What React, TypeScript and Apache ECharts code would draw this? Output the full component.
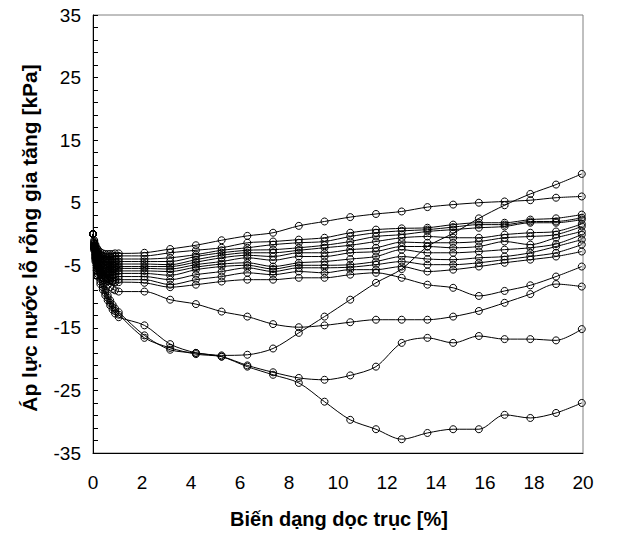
import React, { useEffect, useRef } from "react";
import * as echarts from "echarts";

// Axial strain [%] sampling positions shared by every test curve
const strain = [0, 0.05, 0.1, 0.15, 0.2, 0.3, 0.4, 0.5, 0.6, 0.7, 0.8, 0.9, 1.05, 2.1, 3.15, 4.2, 5.25, 6.3, 7.35, 8.4, 9.45, 10.5, 11.55, 12.6, 13.65, 14.7, 15.75, 16.8, 17.85, 18.9, 19.95];

const xTickLabels = [0, 2, 4, 6, 8, 10, 12, 14, 16, 18, 20];
const yTickLabels = [-35, -25, -15, -5, 5, 15, 25, 35];
const yMinorTicks = [-35, -33, -31, -29, -27, -25, -23, -21, -19, -17, -15, -13, -11, -9, -7, -5, -3, -1, 1, 3, 5, 7, 9, 11, 13, 15, 17, 19, 21, 23, 25, 27, 29, 31, 33, 35];

// Excess pore water pressure [kPa]
const c1 = [0, -2.2, -3.8, -5.0, -6.0, -7.2, -8.1, -9.0, -9.8, -10.6, -11.3, -11.9, -12.5, -16.2, -18.5, -19.0, -19.4, -19.3, -18.3, -15.8, -13.2, -10.5, -7.8, -5.6, -2.0, 0.1, 2.5, 4.6, 6.4, 7.9, 9.6];
const c2 = [0, -1.0, -1.7, -2.2, -2.5, -2.9, -3.1, -3.2, -3.2, -3.2, -3.2, -3.1, -3.1, -3.0, -2.4, -1.8, -1.0, -0.3, 0.2, 1.3, 2.0, 2.7, 3.2, 3.6, 4.3, 4.7, 5.0, 5.2, 5.4, 5.8, 6.0];
const k1 = [0, -1.2, -2.0, -2.5, -2.9, -3.3, -3.5, -3.6, -3.6, -3.6, -3.6, -3.5, -3.5, -3.5, -3.0, -2.6, -2.2, -1.4, -1.2, -0.9, -0.6, 0.2, 0.7, 0.9, 1.0, 1.5, 1.8, 1.8, 2.3, 2.5, 3.1];
const k2 = [0, -1.4, -2.3, -2.8, -3.2, -3.6, -3.9, -4.0, -4.1, -4.1, -4.1, -4.0, -4.0, -4.0, -3.8, -3.3, -2.6, -2.2, -1.7, -1.4, -1.2, -0.4, 0.2, 0.5, 0.7, 1.1, 1.5, 1.5, 2.0, 2.0, 2.6];
const k3 = [0, -1.5, -2.5, -3.1, -3.5, -4.0, -4.3, -4.4, -4.5, -4.5, -4.5, -4.4, -4.4, -4.4, -4.4, -3.6, -3.0, -2.6, -2.5, -2.2, -1.8, -1.2, -0.4, -0.1, 0.4, 0.7, 1.0, 1.2, 1.8, 1.8, 2.3];
const k4 = [0, -1.6, -2.7, -3.4, -3.9, -4.4, -4.7, -4.9, -4.9, -4.9, -4.9, -4.8, -4.8, -4.8, -4.9, -4.1, -3.4, -3.0, -3.0, -2.6, -2.2, -1.8, -1.2, -0.6, -0.4, -0.6, -0.6, -0.1, 0.2, 0.4, 1.6];
const k5 = [0, -1.8, -2.9, -3.7, -4.2, -4.8, -5.1, -5.3, -5.3, -5.3, -5.3, -5.2, -5.2, -5.2, -5.2, -4.5, -3.8, -3.4, -3.6, -3.0, -3.0, -2.5, -2.2, -1.3, -1.4, -1.4, -1.2, -0.6, -0.4, -0.1, 1.2];
const k6 = [0, -1.9, -3.1, -3.9, -4.5, -5.1, -5.4, -5.6, -5.7, -5.7, -5.7, -5.6, -5.5, -5.5, -5.6, -4.9, -4.4, -3.8, -4.2, -3.6, -3.6, -3.0, -2.8, -2.0, -2.0, -2.2, -2.0, -1.2, -1.7, -0.6, 0.4];
const k7 = [0, -2.0, -3.3, -4.2, -4.8, -5.5, -5.8, -6.0, -6.1, -6.1, -6.1, -6.0, -5.9, -5.9, -6.0, -5.3, -4.8, -4.6, -5.2, -4.6, -4.4, -4.0, -3.6, -2.5, -3.0, -3.0, -2.8, -2.5, -2.2, -1.6, -0.1];
const k8 = [0, -2.1, -3.5, -4.5, -5.1, -5.8, -6.2, -6.4, -6.5, -6.5, -6.5, -6.4, -6.3, -6.3, -6.6, -5.7, -5.2, -5.0, -5.6, -5.0, -5.0, -4.9, -4.4, -3.6, -4.0, -4.1, -3.8, -3.6, -3.0, -2.0, -0.9];
const k9 = [0, -2.2, -3.7, -4.7, -5.4, -6.2, -6.6, -6.9, -7.0, -7.0, -7.0, -6.9, -6.8, -6.8, -7.3, -6.5, -6.0, -5.4, -6.0, -5.4, -5.4, -5.3, -4.9, -4.4, -4.9, -4.9, -4.6, -4.1, -3.6, -3.0, -1.7];
const k10 = [0, -2.3, -3.9, -5.0, -5.7, -6.5, -7.0, -7.3, -7.5, -7.5, -7.5, -7.4, -7.3, -7.3, -8.1, -7.3, -6.8, -6.2, -6.5, -6.0, -6.2, -5.7, -5.7, -5.2, -6.0, -5.7, -5.2, -4.6, -4.1, -3.6, -2.8];
const q = [0, -1.8, -3.2, -4.2, -5.0, -5.9, -6.5, -6.9, -7.2, -7.4, -7.6, -7.7, -7.7, -7.8, -8.5, -8.1, -7.6, -7.3, -7.3, -7.0, -7.0, -6.5, -6.2, -7.0, -8.1, -8.6, -9.9, -9.1, -8.2, -6.8, -5.2];
const p = [0, -2.0, -3.4, -4.5, -5.3, -6.3, -7.0, -7.6, -8.1, -8.5, -8.8, -9.0, -9.2, -9.2, -10.5, -11.2, -12.4, -13.2, -14.4, -14.9, -14.6, -14.1, -13.7, -13.7, -13.7, -13.2, -12.3, -11.0, -9.6, -8.0, -8.4];
const r = [0, -2.4, -4.1, -5.4, -6.4, -7.6, -8.5, -9.4, -10.2, -11.0, -11.7, -12.3, -12.9, -16.6, -18.2, -19.2, -19.6, -21.0, -22.1, -23.0, -23.3, -22.6, -21.2, -17.4, -16.6, -17.4, -16.3, -16.8, -16.8, -17.0, -15.2];
const l = [0, -2.6, -4.4, -5.8, -6.8, -8.0, -8.9, -9.8, -10.6, -11.4, -12.1, -12.7, -13.3, -14.6, -17.6, -19.0, -19.6, -21.2, -22.5, -23.8, -26.8, -29.7, -31.2, -32.8, -31.8, -31.2, -31.2, -28.9, -29.4, -28.6, -27.0];

const curves = [c1, c2, k1, k2, k3, k4, k5, k6, k7, k8, k9, k10, q, p, r, l];

const FONT = "'Liberation Sans', Arial, Helvetica, sans-serif";

export default function App() {
  const ref = useRef<HTMLDivElement | null>(null);

  useEffect(() => {
    if (!ref.current) return;
    const chart = echarts.init(ref.current, undefined, { renderer: "svg" });
    const series = curves.map((ys, idx) => ({
      type: "line",
      name: "S" + (idx + 1),
      data: strain.map((x, i) => [x, ys[i]]),
      symbol: "circle",
      symbolSize: 7,
      showSymbol: true,
      smooth: 0.3,
      silent: true,
      lineStyle: { color: "#000", width: 1 },
      itemStyle: { color: "rgba(255,255,255,0)", borderColor: "#000", borderWidth: 1 },
      emphasis: { disabled: true },
    }));

    chart.setOption({
      animation: false,
      grid: { left: 93, right: 53, top: 15, bottom: 83, show: true, borderColor: "#808080", borderWidth: 1 },
      xAxis: {
        type: "value",
        min: 0,
        max: 20,
        interval: 2,
        axisLine: { show: true, onZero: false, lineStyle: { color: "#000", width: 1 } },
        axisTick: { show: false },
        splitLine: { show: false },
        axisLabel: {
          customValues: xTickLabels,
          fontSize: 19,
          color: "#000",
          fontFamily: FONT,
          margin: 20,
        },
      },
      yAxis: {
        type: "value",
        min: -35,
        max: 35,
        axisLine: { show: true, onZero: false, lineStyle: { color: "#000", width: 1 } },
        axisTick: { show: true, inside: true, length: 5, customValues: yMinorTicks, lineStyle: { color: "#000" } },
        splitLine: { show: false },
        axisLabel: {
          customValues: yTickLabels,
          fontSize: 19,
          color: "#000",
          fontFamily: FONT,
          margin: 12,
        },
      },
      graphic: [
        {
          type: "text",
          x: 29,
          y: 238,
          rotation: Math.PI / 2,
          style: {
            text: "Áp lực nước lỗ rỗng gia tăng [kPa]",
            font: "bold 21px " + FONT,
            fill: "#000",
            textAlign: "center",
            textVerticalAlign: "middle",
          },
        },
        {
          type: "text",
          x: 339,
          y: 519,
          style: {
            text: "Biến dạng dọc trục [%]",
            font: "bold 20px " + FONT,
            fill: "#000",
            textAlign: "center",
            textVerticalAlign: "middle",
          },
        },
      ],
      series,
    });

    return () => chart.dispose();
  }, []);

  return <div ref={ref} style={{ position: "absolute", left: 0, top: 0, width: 636, height: 536 }} />;
}
